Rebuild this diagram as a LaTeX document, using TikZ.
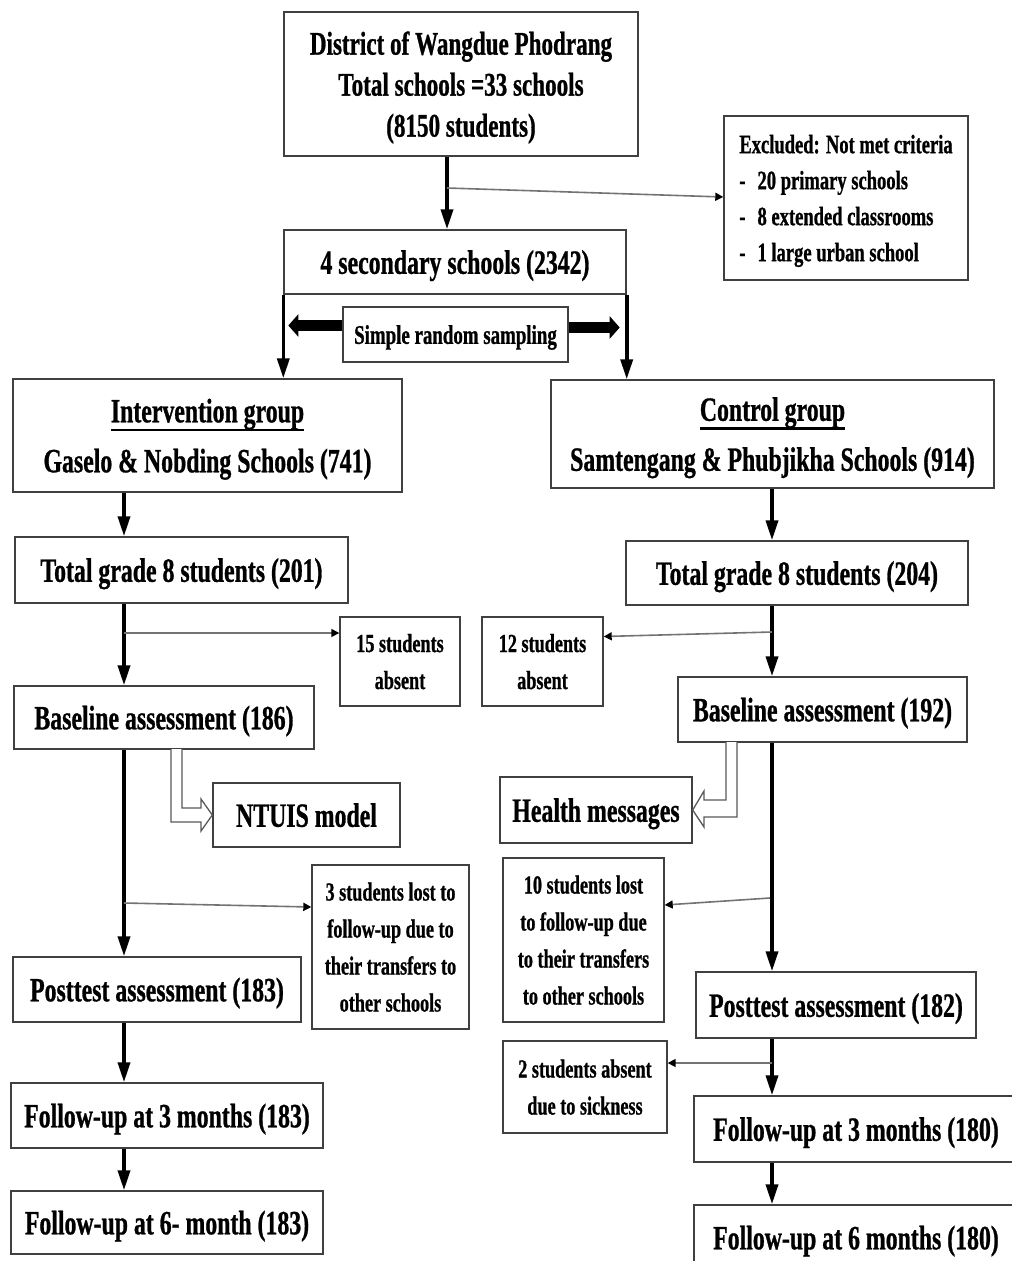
\documentclass[tikz,border=0pt]{standalone}
\usepackage{fontspec}
\setmainfont{Liberation Serif}[FakeStretch=0.7, BoldFeatures={FakeBold=0.8}]
\usetikzlibrary{arrows.meta,calc}
% heavy underline that does not change the line spacing
\newcommand\heavyul[1]{\leavevmode\setbox0\hbox{#1}\copy0\llap{\smash{\rule[-8.8pt]{\wd0}{2.6pt}}}}

\begin{document}
\begin{tikzpicture}[x=1pt,y=-1pt,
  box/.style={draw=black!75, line width=1.4pt, rectangle, align=center,
    inner sep=0pt, text=black, text depth=0pt},
  bigtxt/.style={font=\bfseries\fontsize{34}{50}\selectfont},
  toptxt/.style={font=\bfseries\fontsize{33}{41}\selectfont},
  smalltxt/.style={font=\bfseries\fontsize{26}{37}\selectfont},
  listtxt/.style={font=\bfseries\fontsize{26.5}{36}\selectfont},
  main/.style={draw=black, line width=3.6pt, -{Triangle[length=20pt,width=12pt]}},
  branch/.style={draw=black!55, line width=1.6pt, -{Triangle[length=8pt,width=8pt,color=black]}},
  block/.style={draw=black, line width=11pt, -{Triangle[length=10pt,width=22pt]}},
  hollow/.style={draw=black!65, line width=1.3pt, fill=white, line join=miter}]

\useasboundingbox (0,0) rectangle (1012,1261);

% --- boxes ---
\node[box, toptxt, minimum width=354pt, minimum height=144pt] (top) at (461,84)
  {District of Wangdue Phodrang\\Total schools =33 schools\\(8150 students)};
\node[box, listtxt, align=left, minimum width=244pt, minimum height=164pt] (excl) at (846,198)
  {Excluded: Not met criteria\\
   -\hspace{12pt}20 primary schools\\
   -\hspace{12pt}8 extended classrooms\\
   -\hspace{12pt}1 large urban school};
\node[box, bigtxt, minimum width=342pt, minimum height=64pt] (sec) at (455,262)
  {4 secondary schools (2342)};
\node[box, font=\bfseries\fontsize{27}{32}\selectfont, minimum width=225pt, minimum height=55pt] (srs) at (455.5,334.5)
  {Simple random sampling};

\node[box, bigtxt, minimum width=389pt, minimum height=113pt] (interv) at (207.5,435.5)
  {\heavyul{Intervention group}\\Gaselo \& Nobding Schools (741)};
\node[box, bigtxt, minimum width=443pt, minimum height=108pt] (ctrl) at (772.5,434)
  {\heavyul{Control group}\\Samtengang \& Phubjikha Schools (914)};

\node[box, bigtxt, minimum width=333pt, minimum height=66pt] (tot201) at (181.5,570)
  {Total grade 8 students (201)};
\node[box, bigtxt, minimum width=342pt, minimum height=64pt] (tot204) at (797,573)
  {Total grade 8 students (204)};

\node[box, smalltxt, minimum width=120pt, minimum height=89pt] (abs15) at (400,661.5)
  {15 students\\absent};
\node[box, smalltxt, minimum width=121pt, minimum height=89pt] (abs12) at (542.5,661.5)
  {12 students\\absent};

\node[box, bigtxt, minimum width=300pt, minimum height=63pt] (base186) at (164,717.5)
  {Baseline assessment (186)};
\node[box, bigtxt, minimum width=289pt, minimum height=65pt] (base192) at (822.5,709.5)
  {Baseline assessment (192)};

\node[box, bigtxt, minimum width=187pt, minimum height=64pt] (ntuis) at (306.5,815)
  {NTUIS model};
\node[box, bigtxt, minimum width=192pt, minimum height=66pt] (health) at (596,810)
  {Health messages};

\node[box, smalltxt, minimum width=157pt, minimum height=164pt] (lost3) at (390.5,947)
  {3 students lost to\\follow-up due to\\their transfers to\\other schools};
\node[box, smalltxt, minimum width=161pt, minimum height=164pt] (lost10) at (583.5,940)
  {10 students lost\\to follow-up due\\to their transfers\\to other schools};

\node[box, bigtxt, minimum width=288pt, minimum height=65pt] (post183) at (157,989.5)
  {Posttest assessment (183)};
\node[box, bigtxt, minimum width=280pt, minimum height=66pt] (post182) at (836,1005)
  {Posttest assessment (182)};

\node[box, smalltxt, minimum width=164pt, minimum height=92pt] (abs2) at (585,1087)
  {2 students absent\\due to sickness};

\node[box, bigtxt, minimum width=312pt, minimum height=65pt] (fu3a) at (167,1115.5)
  {Follow-up at 3 months (183)};
\node[box, bigtxt, minimum width=312pt, minimum height=63pt] (fu6a) at (167,1222.5)
  {Follow-up at 6- month (183)};
\node[box, bigtxt, minimum width=324pt, minimum height=66pt] (fu3b) at (856,1129)
  {Follow-up at 3 months (180)};
\node[box, bigtxt, minimum width=324pt, minimum height=65pt] (fu6b) at (856,1237.5)
  {Follow-up at 6 months (180)};

% --- column lines ---
\coordinate (xt) at (447,0);
\coordinate (xl) at (124,0);
\coordinate (xr) at (772,0);

% top to secondary schools, with exclusions branch
\draw[main] (top.south -| xt) -- (sec.north -| xt);
\coordinate (j1) at (447,188);
\draw[branch] (j1) -- ([yshift=1pt]excl.west);

% random allocation
\draw[main] (sec.south west) -- (sec.south west |- interv.north);
\draw[main] (sec.south east) -- (sec.south east |- ctrl.north);
\draw[block] ($(srs.west)+(0,-9)$) -- ($(srs.west -| sec.south west)+(5,-9)$);
\draw[block] ($(srs.east)+(0,-7)$) -- ($(srs.east -| sec.south east)+(-7,-7)$);

% intervention column
\draw[main] (interv.south -| xl) -- (tot201.north -| xl);
\draw[main] (tot201.south -| xl) -- (base186.north -| xl);
\coordinate (j2) at (124,633);
\draw[branch] (j2) -- (j2 -| abs15.west);
\draw[main] (base186.south -| xl) -- (post183.north -| xl);
\coordinate (j4) at (124,903);
\draw[branch] (j4) -- ([yshift=40pt]lost3.west);
\draw[main] (post183.south -| xl) -- (fu3a.north -| xl);
\draw[main] (fu3a.south -| xl) -- (fu6a.north -| xl);

% control column
\draw[main] (ctrl.south -| xr) -- (tot204.north -| xr);
\draw[main] (tot204.south -| xr) -- (base192.north -| xr);
\coordinate (j3) at (772,632);
\draw[branch] (j3) -- ([yshift=25pt]abs12.east);
\draw[main] (base192.south -| xr) -- (post182.north -| xr);
\coordinate (j5) at (770,898);
\draw[branch] (j5) -- ([yshift=35pt]lost10.east);
\draw[main] (post182.south -| xr) -- (fu3b.north -| xr);
\coordinate (j6) at (772,1063);
\draw[branch] (j6) -- (j6 -| abs2.east);
\draw[main] (fu3b.south -| xr) -- (fu6b.north -| xr);

% hollow arrows to the programme boxes
\draw[hollow] (171,749) -- (171,822) -- (201,822) -- (201,831) -- (ntuis.west)
  -- (201,799) -- (201,808) -- (182,808) -- (182,749);
\draw[hollow] (737,742) -- (737,817) -- (704,817) -- (704,827) -- (health.east)
  -- (704,791) -- (704,800) -- (726,800) -- (726,742);

\end{tikzpicture}
\end{document}
